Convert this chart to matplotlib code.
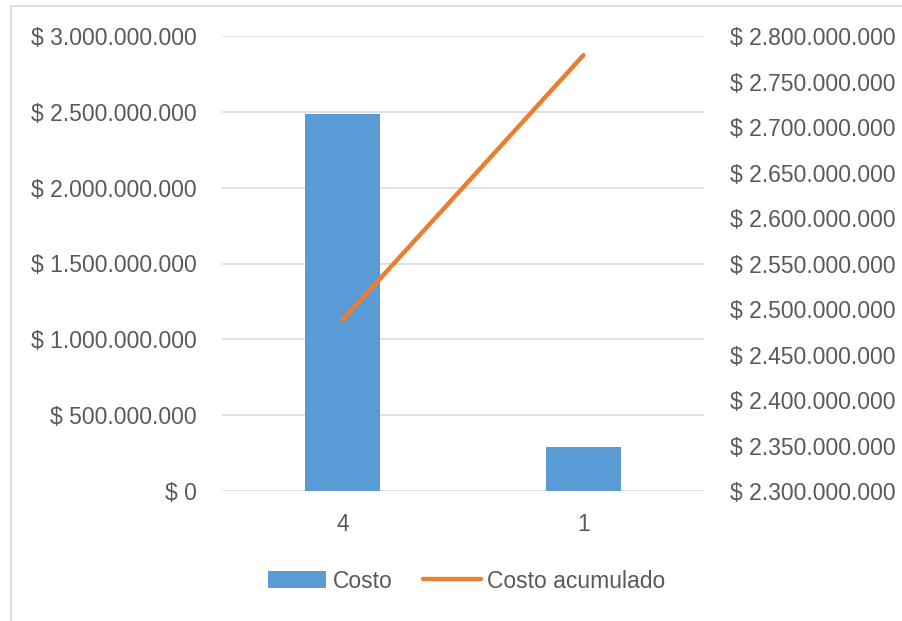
import matplotlib.pyplot as plt
from matplotlib.patches import Rectangle
from matplotlib.ticker import FuncFormatter, MultipleLocator

categories = ['4', '1']
costo = [2484000000, 290000000]
costo_acumulado = [2488000000, 2779000000]

plt.rcParams['font.family'] = ['Liberation Sans', 'DejaVu Sans']

GRAY_TXT = '#595959'
GRID = '#d9d9d9'
BLUE = '#5b9bd5'
ORANGE = '#ed7d31'
FS = 16.5


def money(v, pos=None):
    """Formats like Excel: $ 1.000.000"""
    return '$ ' + f'{int(round(v)):,}'.replace(',', '.')


fig = plt.figure(figsize=(9.03, 6.21), dpi=100)
fig.patches.append(Rectangle((11 / 903, -0.1), 1.2, (621 - 6) / 621 + 0.1,
                             transform=fig.transFigure, fill=False,
                             edgecolor='#d9d9d9', linewidth=1.2))

ax = fig.add_axes([222 / 903, 130 / 621, 482 / 903, 455 / 621])
x = list(range(len(categories)))
bars = ax.bar(x, costo, width=0.315, color=BLUE, label='Costo', zorder=2)
ax.set_xlim(-0.5, len(categories) - 0.5)
ax.set_ylim(0, 3000000000)
ax.yaxis.set_major_locator(MultipleLocator(500000000))
ax.yaxis.set_major_formatter(FuncFormatter(money))
ax.set_xticks(x)
ax.set_xticklabels(categories)
ax.grid(axis='y', color=GRID, linewidth=1.1, zorder=0)
ax.set_axisbelow(True)
for s in ax.spines.values():
    s.set_visible(False)
ax.tick_params(length=0, labelsize=FS, colors=GRAY_TXT)
ax.tick_params(axis='y', pad=18)
ax.tick_params(axis='x', pad=16)

ax2 = ax.twinx()
line, = ax2.plot(x, costo_acumulado, color=ORANGE, linewidth=3.2,
                 solid_capstyle='round', label='Costo acumulado', zorder=3)
ax2.set_ylim(2300000000, 2800000000)
ax2.yaxis.set_major_locator(MultipleLocator(50000000))
ax2.yaxis.set_major_formatter(FuncFormatter(money))
for s in ax2.spines.values():
    s.set_visible(False)
ax2.tick_params(length=0, labelsize=FS, colors=GRAY_TXT, pad=18.5)

fig.legend([bars, line], ['Costo', 'Costo acumulado'], loc='center',
           bbox_to_anchor=(467 / 903, 1 - 581 / 621), ncol=2, frameon=False,
           fontsize=FS, labelcolor=GRAY_TXT, handlelength=2.5,
           handletextpad=0.3, columnspacing=1.35)

fig.savefig('out.png', dpi=100)
